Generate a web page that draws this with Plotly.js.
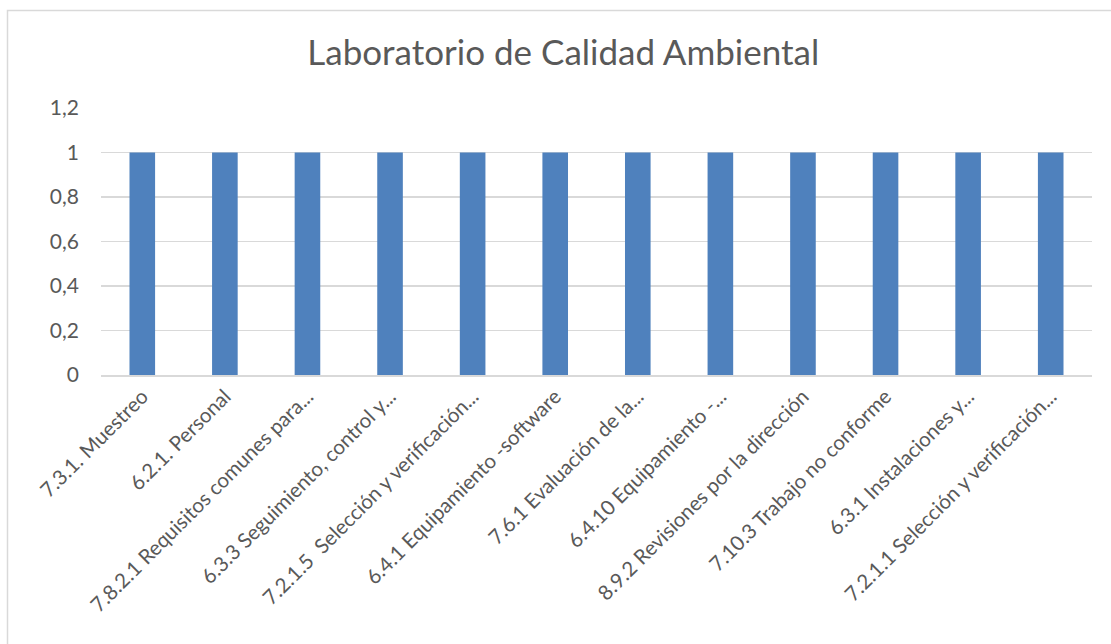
<!DOCTYPE html>
<html>
<head>
<meta charset="utf-8">
<script src="https://cdn.plot.ly/plotly-3.0.1.min.js"></script>
<style>
  html, body { margin: 0; padding: 0; background: #fff; }
  #chart { width: 1111px; height: 644px; }
</style>
</head>
<body>
<div id="chart"></div>
<script>
// categories as shown on the x axis (Excel truncates long ones with "...")
const categories = [
    "7.3.1. Muestreo",
    "6.2.1. Personal",
    "7.8.2.1 Requisitos comunes para...",
    "6.3.3 Seguimiento, control y...",
    "7.2.1.5  Selección y verificación...",
    "6.4.1 Equipamiento -software",
    "7.6.1 Evaluación de la...",
    "6.4.10 Equipamiento -...",
    "8.9.2 Revisiones por la dirección",
    "7.10.3 Trabajo no conforme",
    "6.3.1 Instalaciones y...",
    "7.2.1.1 Selección y verificación..."
];
const values = [1, 1, 1, 1, 1, 1, 1, 1, 1, 1, 1, 1];
const yTicks = [0, 0.2, 0.4, 0.6, 0.8, 1, 1.2];

const textColor = "#595959";
const gridColor = "#d9d9d9";
const fontFamily = "Lato, 'Open Sans', sans-serif";

const trace = {
    x: categories,
    y: values,
    type: "bar",
    marker: { color: "#4f81bd" },
    width: 0.31,
    hoverinfo: "x+y"
};

const layout = {
    width: 1111,
    height: 644,
    margin: { l: 101, r: 19, t: 108, b: 269 },
    paper_bgcolor: "#ffffff",
    plot_bgcolor: "#ffffff",
    separators: ",.",
    showlegend: false,
    font: { family: fontFamily, color: textColor },
    title: {
        text: "Laboratorio de Calidad Ambiental",
        font: { family: fontFamily, size: 35, color: textColor },
        x: 0.507,
        xanchor: "center",
        y: 0.918,
        yanchor: "middle"
    },
    xaxis: {
        type: "category",
        tickangle: -45,
        tickfont: { size: 20.5, color: textColor },
        showgrid: false,
        showline: true,
        linecolor: gridColor,
        linewidth: 1.5,
        ticks: "",
        fixedrange: true
    },
    yaxis: {
        range: [0, 1.2],
        tickvals: yTicks,
        tickfont: { size: 21, color: textColor },
        showgrid: true,
        gridcolor: gridColor,
        gridwidth: 1.5,
        zeroline: false,
        showline: false,
        ticks: "",
        ticklabelstandoff: 21,
        fixedrange: true
    },
    shapes: [{
        // outer chart frame (runs off the right and bottom of the image)
        type: "rect",
        xref: "paper",
        yref: "paper",
        x0: (7.5 - 101) / 991,
        x1: (1120 - 101) / 991,
        y0: (375 - 660) / 267,
        y1: (375 - 10.5) / 267,
        line: { color: gridColor, width: 1.5 },
        fillcolor: "rgba(0,0,0,0)",
        layer: "below"
    }]
};

Plotly.newPlot("chart", [trace], layout, { displayModeBar: false, staticPlot: true });
</script>
</body>
</html>
